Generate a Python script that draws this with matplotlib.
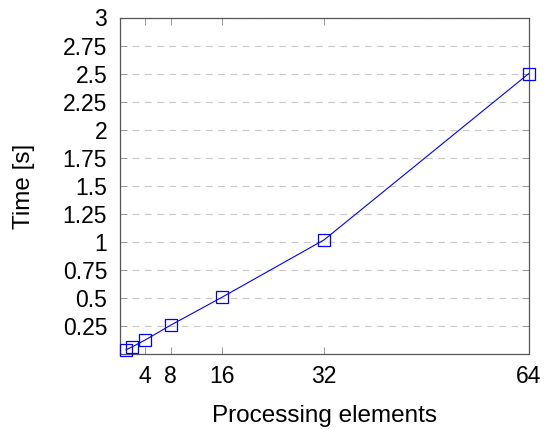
import matplotlib
matplotlib.use("Agg")
import matplotlib.pyplot as plt

pe = [1, 2, 4, 8, 16, 32, 64]
time_s = [0.04, 0.068, 0.128, 0.26, 0.508, 1.02, 2.5]
xticks = [4, 8, 16, 32, 64]
yticks = [0.25, 0.5, 0.75, 1, 1.25, 1.5, 1.75, 2, 2.25, 2.5, 2.75, 3]
ytick_labels = ["0.25", "0.5", "0.75", "1", "1.25", "1.5", "1.75", "2", "2.25", "2.5", "2.75", "3"]

plt.rcParams['font.family'] = ['Liberation Sans', 'DejaVu Sans']

W, H = 545, 429
fig = plt.figure(figsize=(W/100, H/100), dpi=100)
left, right, top, bottom = 119.7, 528.7, 17.5, 354.3
ax = fig.add_axes([left/W, (H-bottom)/H, (right-left)/W, (bottom-top)/H])

ax.plot(pe, time_s, color='#0000ff', linewidth=0.8, marker='s', markersize=8.3,
        markerfacecolor='none', markeredgecolor='#0000ff', markeredgewidth=0.9,
        zorder=3, clip_on=False)

ax.set_xlim(0, 64)
ax.set_ylim(0, 3)
ax.set_xticks(xticks)
ax.set_xticklabels([str(t) for t in xticks])
ax.set_yticks(yticks)
ax.set_yticklabels(ytick_labels)

ax.yaxis.grid(True, linestyle=(0, (6, 5)), color='#c8c8c8', linewidth=0.8)
ax.set_axisbelow(True)

for s in ax.spines.values():
    s.set_color('#555555')
    s.set_linewidth(0.9)

ax.tick_params(direction='in', length=5, width=0.7, color='#999999',
               top=True, right=True, labelsize=16.5)
ax.tick_params(axis='y', pad=9)
ax.tick_params(axis='x', pad=8)

ax.set_xlabel('Processing elements', fontsize=17.5, labelpad=12)
ax.set_ylabel('Time [s]', fontsize=17.5, labelpad=20)

fig.savefig('out.png', dpi=100)
